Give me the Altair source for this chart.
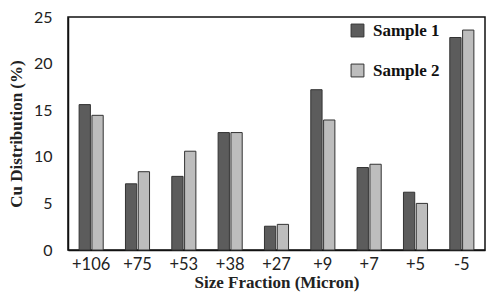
import altair as alt
import pandas as pd

categories = ["+106", "+75", "+53", "+38", "+27", "+9", "+7", "+5", "-5"]
sample1 = [15.6, 7.1, 7.9, 12.6, 2.55, 17.2, 8.85, 6.2, 22.8]
sample2 = [14.45, 8.4, 10.6, 12.6, 2.75, 13.95, 9.2, 5.0, 23.6]
series = ["Sample 1", "Sample 2"]

rows = []
for c, a, b in zip(categories, sample1, sample2):
    rows.append({"size": c, "sample": series[0], "value": a})
    rows.append({"size": c, "sample": series[1], "value": b})
df = pd.DataFrame(rows)

chart = alt.Chart(df).mark_bar(stroke="#333333", strokeWidth=1).encode(
    x=alt.X("size:N", sort=categories,
            scale=alt.Scale(paddingInner=0.48, paddingOuter=0.24),
            axis=alt.Axis(title="Size Fraction (Micron)", labelAngle=0, ticks=False,
                          labelFont="Lato", labelFontSize=16.5, labelColor="#222",
                          labelPadding=6, titleFont="Liberation Serif", titleFontSize=17,
                          titleFontWeight="bold", titlePadding=2, titleColor="#222",
                          domainColor="#111", domainWidth=1.5)),
    xOffset=alt.XOffset("sample:N", sort=series, scale=alt.Scale(paddingInner=0.12)),
    y=alt.Y("value:Q", scale=alt.Scale(domain=[0, 25]),
            axis=alt.Axis(title="Cu Distribution (%)", values=[0, 5, 10, 15, 20, 25],
                          grid=False, ticks=False, labelFont="Lato", labelFontSize=16,
                          labelColor="#222", labelPadding=16, titleFont="Liberation Serif",
                          titleFontSize=17, titleFontWeight="bold", titlePadding=8,
                          titleColor="#222", domainColor="#111", domainWidth=1.5)),
    color=alt.Color("sample:N", sort=series,
                    scale=alt.Scale(domain=series, range=["#5c5c5c", "#bdbdbd"]),
                    legend=alt.Legend(title=None, orient="none", legendX=281, legendY=5,
                                      symbolType="square", symbolSize=165,
                                      symbolStrokeColor="#333", symbolStrokeWidth=1,
                                      labelFont="Liberation Serif", labelFontSize=17,
                                      labelFontWeight="bold", labelColor="#111",
                                      rowPadding=22, labelOffset=7)),
).properties(
    width=417, height=233,
    autosize=alt.AutoSizeParams(type="none"),
    padding={"left": 60, "top": 9, "right": 1, "bottom": 44},
).configure_view(stroke="#111", strokeWidth=1.5)

chart.save("out.html", embed_options={"renderer": "svg", "actions": False})
